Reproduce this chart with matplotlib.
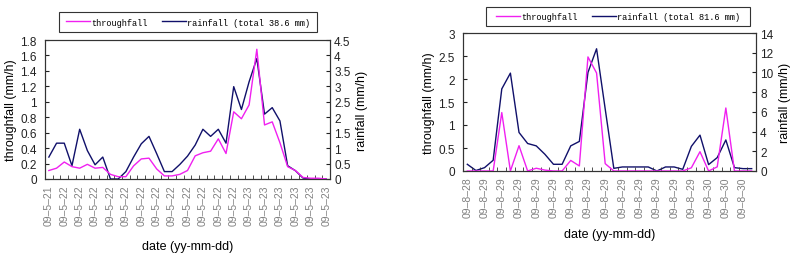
import matplotlib
matplotlib.use('Agg')
import matplotlib.pyplot as plt
import matplotlib.patches as mpatches
from matplotlib.ticker import FuncFormatter

# ---- data ----
# left panel (May 2009), 37 time steps
may_throughfall = [0.11, 0.14, 0.22, 0.16, 0.14, 0.19, 0.14, 0.15, 0.06, 0.03,
                   0.03, 0.17, 0.26, 0.27, 0.13, 0.04, 0.04, 0.06, 0.11, 0.30,
                   0.34, 0.36, 0.52, 0.33, 0.87, 0.78, 0.96, 1.68, 0.70, 0.74,
                   0.47, 0.16, 0.11, 0.02, 0.01, 0.01, 0.0]
may_rainfall = [0.71, 1.16, 1.16, 0.43, 1.61, 0.92, 0.46, 0.71, 0.0, 0.0,
                0.24, 0.71, 1.14, 1.38, 0.82, 0.24, 0.24, 0.47, 0.74, 1.10,
                1.61, 1.38, 1.61, 1.16, 2.99, 2.25, 3.15, 3.90, 2.10, 2.31,
                1.88, 0.43, 0.27, 0.03, 0.0, 0.0, 0.0]
may_labels = ['09–5–21'] + ['09–5–22'] * 12 + ['09–5–23'] * 6

# right panel (August 2009), 34 time steps
aug_throughfall = [0, 0, 0, 0, 1.27, 0, 0.55, 0, 0.06, 0.02,
                   0, 0, 0.23, 0.11, 2.48, 2.13, 0.16, 0, 0, 0,
                   0, 0, 0, 0, 0, 0, 0.07, 0.42, 0, 0.09,
                   1.37, 0, 0, 0]
aug_rainfall = [0.68, 0.05, 0.34, 1.09, 8.33, 9.93, 3.91, 2.79, 2.55, 1.70,
                0.68, 0.68, 2.55, 3.0, 10.0, 12.4, 6.3, 0.27, 0.41, 0.41,
                0.41, 0.41, 0.0, 0.41, 0.41, 0.17, 2.5, 3.64, 0.65, 1.36,
                3.15, 0.34, 0.24, 0.24]
aug_labels = ['09–8–28'] + ['09–8–29'] * 13 + ['09–8–30'] * 3

PINK = '#f020f0'
NAVY = '#10106a'
W, H = 800, 255

fig = plt.figure(figsize=(8, 2.55), dpi=100)
fig.patch.set_facecolor('white')


def px_axes(left, top, right, bottom):
    return fig.add_axes([left / W, 1 - bottom / H, (right - left) / W, (bottom - top) / H])


def draw_panel(box, tf, rf, labels, lmax, lstep, rmax, rstep, total, legbox, xlab_y):
    ax = px_axes(*box)
    ax2 = ax.twinx()
    n = len(tf)
    x = list(range(n))

    ax2.plot(x, rf, color=NAVY, lw=1.0)
    ax.plot(x, tf, color=PINK, lw=1.0)
    ax.set_zorder(ax2.get_zorder() + 1)
    ax.patch.set_visible(False)

    ax.set_xlim(-0.5, n - 0.5)
    ax.set_ylim(0, lmax)
    ax2.set_ylim(0, rmax)
    ax.set_yticks([i * lstep for i in range(int(round(lmax / lstep)) + 1)])
    ax2.set_yticks([i * rstep for i in range(int(round(rmax / rstep)) + 1)])
    fmt = FuncFormatter(lambda v, p: ('%g' % round(v, 2)))
    ax.yaxis.set_major_formatter(fmt)
    ax2.yaxis.set_major_formatter(fmt)

    ax.set_xticks(list(range(0, n, 2)))
    ax.set_xticklabels(labels, rotation=90, fontsize=7.5, color='#808080',
                       family='Liberation Sans')
    ax.set_xticks([i + 0.5 for i in range(n - 1)], minor=True)
    ax.tick_params(axis='x', which='major', length=0, pad=4)
    ax.tick_params(axis='x', which='minor', direction='in', length=3, color='#333333')
    ax.tick_params(axis='y', direction='in', length=3, labelsize=8.5, pad=6,
                   colors='#222222')
    ax2.tick_params(axis='y', direction='in', length=3, labelsize=8.5, pad=3,
                    colors='#222222')
    for a in (ax, ax2):
        for s in a.spines.values():
            s.set_color('#333333')
            s.set_linewidth(0.8)
        for t in a.get_yticklabels():
            t.set_family('Liberation Sans')

    ax.set_ylabel('throughfall (mm/h)', fontsize=9, family='Liberation Sans', labelpad=2)
    ax2.set_ylabel('rainfall (mm/h)', fontsize=9, family='Liberation Sans',
                   rotation=90, labelpad=4)
    ax.set_xlabel('date (yy-mm-dd)', fontsize=9, family='Liberation Sans')
    ax.xaxis.set_label_coords(0.5, xlab_y, transform=ax.transAxes)

    # legend with a square box
    lx0, ly0, lx1, ly1 = legbox
    fig.patches.append(mpatches.Rectangle((lx0 / W, 1 - ly1 / H), (lx1 - lx0) / W,
                                          (ly1 - ly0) / H, transform=fig.transFigure,
                                          fill=False, edgecolor='#333333', lw=0.8))
    handles = [plt.Line2D([0], [0], color=PINK, lw=1.0, label='throughfall'),
               plt.Line2D([0], [0], color=NAVY, lw=1.0,
                          label='rainfall (total %s mm)' % total)]
    fig.legend(handles=handles, loc='center', ncol=2, frameon=False,
               bbox_to_anchor=((lx0 + lx1) / 2 / W, 1 - (ly0 + ly1) / 2 / H),
               prop={'family': 'Liberation Mono', 'size': 6.2},
               handlelength=2.8, handletextpad=0.15, columnspacing=1.6,
               borderpad=0, borderaxespad=0)
    return ax, ax2


draw_panel((45, 41, 330, 180), may_throughfall, may_rainfall, may_labels,
           1.8, 0.2, 4.5, 0.5, '38.6', (59, 13, 317, 33), -0.44)
draw_panel((463, 34, 756, 172), aug_throughfall, aug_rainfall, aug_labels,
           3.0, 0.5, 14, 2, '81.6', (486, 8, 750, 27), -0.41)

fig.savefig('out.png', dpi=100, facecolor='white')
